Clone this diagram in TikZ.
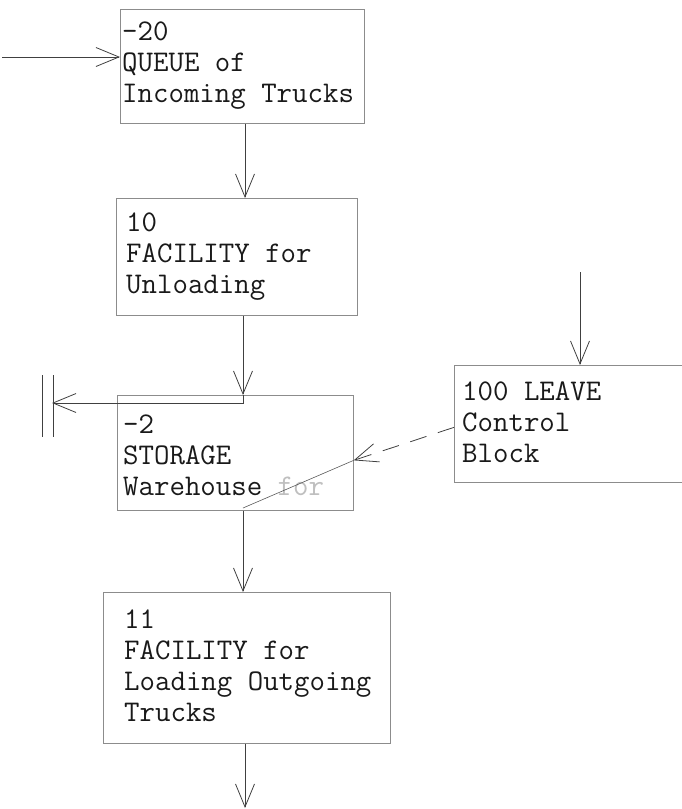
\documentclass[tikz,border=0pt]{standalone}
\usepackage{fontspec}
\usetikzlibrary{arrows.meta}
\tikzset{
  box/.style={draw=black!45, line width=0.7pt, rectangle, inner sep=0pt, anchor=north west},
  txt/.style={inner sep=0pt, anchor=west, align=left, text=black!90,
    font=\fontsize{30}{31}\selectfont\ttfamily},
  conn/.style={draw=black!75, line width=0.8pt},
  barb/.style={-{Straight Barb[length=23pt,width=19pt,line width=0.8pt]}},
  thinline/.style={draw=black!65, line width=0.6pt},
}
\begin{document}
\begin{tikzpicture}[x=1pt,y=-1pt]
\useasboundingbox (0,0) rectangle (682,809);
% column coordinates
\coordinate (col) at (243,0);
\coordinate (colb) at (245,0);
% boxes
\node[box, minimum width=244pt, minimum height=114pt] (q) at (120,9) {};
\node[txt] (qt) at ([xshift=2pt,yshift=1pt]q.west) {-20\\QUEUE of\\Incoming Trucks};
\node[box, minimum width=241pt, minimum height=117pt] (f1) at (116,198) {};
\node[txt] (f1t) at ([xshift=10pt]f1.west) {10\\FACILITY for\\Unloading};
\node[box, minimum width=236pt, minimum height=115pt] (st) at (117,395) {};
\node[txt] (stt) at ([xshift=6pt,yshift=-2pt]st.west) {-2\\STORAGE\\Warehouse \textcolor{black!25}{for}};
\node[box, minimum width=287pt, minimum height=151pt] (f2) at (103,592) {};
\node[txt] (f2t) at ([xshift=21pt,yshift=2pt]f2.west) {11\\FACILITY for\\Loading Outgoing\\Trucks};
\node[box, minimum width=266pt, minimum height=117pt] (lv) at (454,365) {};
\node[txt] (lvt) at ([xshift=8pt,yshift=2pt]lv.west) {100 LEAVE\\Control\\Block};
% free ends
\coordinate (in) at (2,57);
\coordinate (ex) at (52,403);
\coordinate (lvin) at (580,272);
\coordinate (out) at (245,808);
\coordinate (cross) at (243,508);
\coordinate (barA1) at (42,375);
\coordinate (barA2) at (42,437);
\coordinate (barB1) at (53,375);
\coordinate (barB2) at (53,437);
% connectors
\draw[conn, barb] (in) -- (q.west |- in);
\draw[conn, barb] (q.south -| colb) -- (f1.north -| colb);
\draw[conn, barb] (f1.south -| col) -- (st.north -| col);
\draw[conn, barb] (st.north -| col) -- ++(0,8) -- (ex);
\draw[conn] (barA1) -- (barA2);
\draw[conn] (barB1) -- (barB2);
\draw[conn, barb] (lvin) -- (lv.north -| lvin);
\draw[conn, barb, dash pattern=on 17pt off 12pt] ([yshift=-3.5pt]lv.west) -- ([yshift=-7.5pt]st.east);
\draw[thinline] ([yshift=-7.5pt]st.east) -- (cross);
\draw[conn, barb] (st.south -| col) -- (f2.north -| col);
\draw[conn, barb] (f2.south -| colb) -- (out);
\end{tikzpicture}
\end{document}
